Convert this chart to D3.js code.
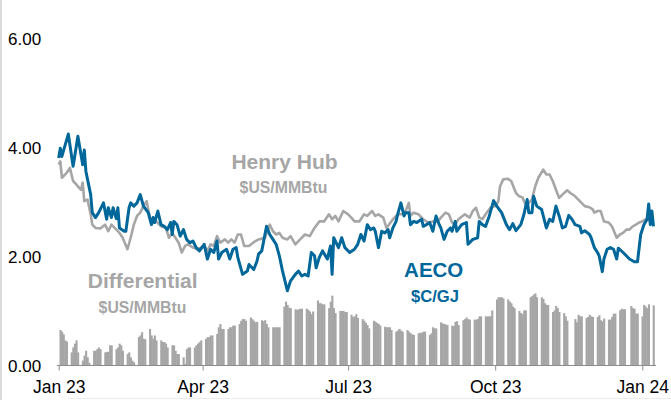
<!DOCTYPE html>
<html><head><meta charset="utf-8">
<script src="https://cdn.jsdelivr.net/npm/d3@7"></script>
<style>html,body{margin:0;padding:0;background:#fff;}svg{display:block;}</style>
</head><body>
<svg id="c" width="671" height="400"></svg>
<script>
const yTicks = [0, 2, 4, 6];
const xTickDates = ["2023-01-01","2023-04-01","2023-07-01","2023-10-01","2024-01-01"];
const xTickLabels = ["Jan 23","Apr 23","Jul 23","Oct 23","Jan 24"];

const aecoDates = ["2023-01-01","2023-01-02","2023-01-03","2023-01-07","2023-01-10","2023-01-11","2023-01-13","2023-01-16","2023-01-17","2023-01-18","2023-01-21","2023-01-22","2023-01-24","2023-01-26","2023-01-29","2023-01-31","2023-02-01","2023-02-03","2023-02-04","2023-02-06","2023-02-07","2023-02-08","2023-02-11","2023-02-12","2023-02-14","2023-02-15","2023-02-17","2023-02-19","2023-02-21","2023-02-23","2023-02-26","2023-02-28","2023-03-01","2023-03-02","2023-03-04","2023-03-06","2023-03-08","2023-03-10","2023-03-12","2023-03-13","2023-03-14","2023-03-16","2023-03-18","2023-03-20","2023-03-22","2023-03-24","2023-03-26","2023-03-28","2023-03-30","2023-04-02","2023-04-04","2023-04-06","2023-04-08","2023-04-10","2023-04-11","2023-04-13","2023-04-16","2023-04-18","2023-04-20","2023-04-22","2023-04-23","2023-04-26","2023-04-29","2023-04-30","2023-05-03","2023-05-05","2023-05-06","2023-05-08","2023-05-11","2023-05-13","2023-05-15","2023-05-17","2023-05-19","2023-05-21","2023-05-24","2023-05-26","2023-05-29","2023-05-31","2023-06-02","2023-06-04","2023-06-06","2023-06-08","2023-06-10","2023-06-11","2023-06-13","2023-06-15","2023-06-18","2023-06-20","2023-06-21","2023-06-22","2023-06-25","2023-06-27","2023-06-29","2023-07-02","2023-07-05","2023-07-07","2023-07-09","2023-07-11","2023-07-13","2023-07-15","2023-07-17","2023-07-18","2023-07-20","2023-07-22","2023-07-24","2023-07-26","2023-07-27","2023-07-29","2023-07-31","2023-08-01","2023-08-03","2023-08-05","2023-08-06","2023-08-08","2023-08-09","2023-08-11","2023-08-13","2023-08-16","2023-08-17","2023-08-19","2023-08-21","2023-08-23","2023-08-25","2023-08-27","2023-08-28","2023-08-30","2023-09-01","2023-09-03","2023-09-04","2023-09-06","2023-09-07","2023-09-10","2023-09-13","2023-09-14","2023-09-17","2023-09-20","2023-09-21","2023-09-23","2023-09-25","2023-09-27","2023-09-30","2023-10-02","2023-10-05","2023-10-08","2023-10-10","2023-10-12","2023-10-14","2023-10-17","2023-10-19","2023-10-21","2023-10-22","2023-10-24","2023-10-25","2023-10-27","2023-10-30","2023-11-02","2023-11-04","2023-11-06","2023-11-08","2023-11-10","2023-11-12","2023-11-14","2023-11-16","2023-11-18","2023-11-20","2023-11-23","2023-11-24","2023-11-26","2023-11-29","2023-11-30","2023-12-02","2023-12-04","2023-12-05","2023-12-07","2023-12-08","2023-12-10","2023-12-12","2023-12-14","2023-12-16","2023-12-17","2023-12-20","2023-12-22","2023-12-24","2023-12-27","2023-12-29","2023-12-31","2024-01-02","2024-01-04","2024-01-05","2024-01-06","2024-01-07","2024-01-08"];
const aecoValues = [3.80,3.98,3.83,4.24,3.65,3.83,4.20,3.68,3.95,3.56,3.13,2.80,2.71,2.80,2.98,2.68,2.89,2.71,2.89,2.69,2.89,2.52,2.46,2.46,2.89,2.98,2.92,2.98,3.13,2.92,2.80,2.58,2.71,2.62,2.83,2.58,2.55,2.49,2.62,2.40,2.64,2.58,2.37,2.49,2.31,2.25,2.28,2.16,2.10,2.22,1.95,2.13,2.07,2.28,1.95,2.07,2.13,1.95,2.13,2.16,1.98,1.67,1.73,1.85,1.76,1.91,2.04,2.10,2.55,2.40,2.31,2.22,2.01,1.73,1.37,1.55,1.67,1.73,1.64,1.67,1.64,2.07,2.01,1.79,1.98,2.10,1.95,2.19,1.67,2.34,2.16,2.34,2.16,2.07,2.13,2.22,2.40,2.28,2.58,2.49,2.52,2.46,2.16,2.46,2.43,2.49,2.34,2.52,2.64,2.77,2.98,2.74,2.80,2.80,2.58,2.64,2.62,2.68,2.55,2.58,2.62,2.46,2.74,2.58,2.52,2.31,2.46,2.52,2.46,2.64,2.46,2.58,2.62,2.22,2.31,2.34,2.64,2.58,2.55,2.71,3.02,2.92,2.80,2.58,2.49,2.60,2.47,2.58,2.77,3.04,2.80,2.80,3.10,2.92,2.86,2.52,2.68,2.64,2.92,2.74,2.52,2.55,2.75,2.68,2.58,2.55,2.43,2.47,2.40,2.34,2.16,2.07,2.01,1.72,1.95,2.13,2.16,2.13,1.95,2.15,2.07,2.01,1.95,1.90,1.90,2.40,2.58,2.68,2.96,2.58,2.83,2.55];

const hhDates = ["2023-01-01","2023-01-02","2023-01-03","2023-01-06","2023-01-08","2023-01-10","2023-01-12","2023-01-13","2023-01-15","2023-01-16","2023-01-17","2023-01-19","2023-01-21","2023-01-22","2023-01-24","2023-01-27","2023-01-30","2023-02-01","2023-02-03","2023-02-05","2023-02-08","2023-02-10","2023-02-13","2023-02-15","2023-02-17","2023-02-19","2023-02-21","2023-02-23","2023-02-25","2023-02-27","2023-03-01","2023-03-03","2023-03-06","2023-03-09","2023-03-11","2023-03-13","2023-03-15","2023-03-17","2023-03-19","2023-03-21","2023-03-23","2023-03-26","2023-03-29","2023-04-02","2023-04-04","2023-04-06","2023-04-08","2023-04-10","2023-04-12","2023-04-15","2023-04-17","2023-04-19","2023-04-21","2023-04-23","2023-04-25","2023-04-27","2023-04-30","2023-05-03","2023-05-06","2023-05-10","2023-05-13","2023-05-15","2023-05-17","2023-05-19","2023-05-21","2023-05-24","2023-05-26","2023-05-29","2023-06-01","2023-06-04","2023-06-07","2023-06-10","2023-06-13","2023-06-16","2023-06-19","2023-06-21","2023-06-23","2023-06-25","2023-06-28","2023-07-01","2023-07-03","2023-07-05","2023-07-08","2023-07-11","2023-07-13","2023-07-16","2023-07-18","2023-07-20","2023-07-23","2023-07-25","2023-07-28","2023-07-30","2023-08-01","2023-08-04","2023-08-06","2023-08-08","2023-08-09","2023-08-11","2023-08-14","2023-08-17","2023-08-20","2023-08-23","2023-08-26","2023-08-29","2023-08-31","2023-09-02","2023-09-04","2023-09-06","2023-09-08","2023-09-12","2023-09-15","2023-09-17","2023-09-19","2023-09-21","2023-09-23","2023-09-25","2023-09-28","2023-10-01","2023-10-03","2023-10-04","2023-10-06","2023-10-09","2023-10-11","2023-10-14","2023-10-16","2023-10-18","2023-10-20","2023-10-22","2023-10-24","2023-10-26","2023-10-28","2023-10-31","2023-11-02","2023-11-04","2023-11-06","2023-11-08","2023-11-10","2023-11-12","2023-11-15","2023-11-17","2023-11-20","2023-11-24","2023-11-26","2023-11-29","2023-12-01","2023-12-02","2023-12-04","2023-12-06","2023-12-08","2023-12-11","2023-12-13","2023-12-16","2023-12-18","2023-12-20","2023-12-22","2023-12-24","2023-12-26","2023-12-28","2023-12-30","2024-01-01","2024-01-03","2024-01-05","2024-01-07"];
const hhValues = [3.68,3.74,3.44,3.53,3.62,3.38,3.32,3.28,3.22,3.35,3.01,3.04,2.77,2.58,2.52,2.51,2.58,2.46,2.58,2.52,2.43,2.34,2.13,2.34,2.58,2.74,2.80,2.92,3.01,2.71,2.62,2.64,2.55,2.52,2.34,2.43,2.34,2.25,2.07,2.19,2.22,2.16,2.13,2.19,2.10,2.22,2.19,2.37,2.25,2.31,2.25,2.31,2.25,2.40,2.40,2.19,2.19,2.26,2.31,2.34,2.58,2.46,2.40,2.43,2.34,2.31,2.37,2.22,2.31,2.40,2.37,2.52,2.64,2.64,2.77,2.68,2.74,2.64,2.83,2.77,2.71,2.64,2.64,2.77,2.74,2.83,2.74,2.77,2.71,2.52,2.64,2.71,2.77,2.77,2.83,2.98,2.74,2.80,2.77,2.68,2.62,2.64,2.64,2.74,2.80,2.77,2.62,2.58,2.68,2.77,2.71,2.83,2.89,2.71,2.68,2.77,2.89,2.92,3.01,3.28,3.41,3.42,3.38,3.16,3.10,3.08,2.95,2.98,3.04,3.28,3.44,3.59,3.50,3.50,3.38,3.22,3.07,3.13,3.21,3.16,3.10,2.98,2.92,2.90,2.86,2.80,2.83,2.83,2.64,2.62,2.55,2.34,2.40,2.43,2.49,2.49,2.55,2.58,2.62,2.64,2.68,2.68,2.58];

// Differential bars: one row per trading week (Mon..Fri), first week starting 2023-01-02; null = no trading
const diffFirstMonday = "2023-01-02";
const diffWeeks = [
 [0.65,0.62,0.57,0.46,0.44],[0.24,0.33,0.40,0.46,0.24],[0.09,0.18,0.27,0.15,0.05],[0.27,0.27,0.30,0.33,0.30],
 [0.24,0.25,0.25,0.37,0.37],[0.30,0.33,0.40,0.37,0.27],[0.21,0.24,0.15,0.09,0.06],[0.52,0.55,0.61,0.49,0.48],
 [0.67,0.55,0.49,0.55,0.46],[0.46,0.43,0.43,0.40,0.33],[0.37,0.37,0.27,0.21,0.21],[0.15,0.03,0.30,0.33,0.33],
 [0.33,0.37,0.40,0.43,0.46],[0.49,0.52,0.52,0.55,0.55],[0.58,0.70,0.76,0.67,0.67],[0.67,0.70,0.70,0.73,0.73],
 [0.76,0.82,0.85,0.85,0.82],[0.88,0.85,0.82,0.79,0.80],[0.83,0.81,0.83,0.76,0.70],[0.70,0.70,0.70,0.70,0.70],
 [1.08,1.17,1.11,1.06,1.05],[1.03,1.02,1.03,1.04,1.04],[1.04,1.02,0.99,0.94,0.99],[1.19,1.14,1.14,1.12,1.12],
 [1.05,1.17,1.28,1.05,0.96],[1.00,1.00,1.00,0.98,0.98],[0.93,0.89,0.90,0.94,0.87],[0.85,0.82,0.78,0.74,0.68],
 [0.82,0.80,0.78,0.76,0.73],[0.71,0.70,0.70,0.70,0.65],[0.62,0.64,0.67,0.64,0.62],[0.65,0.62,0.59,0.57,0.56],
 [0.59,0.60,0.60,0.62,0.62],[0.56,0.59,0.70,0.68,0.68],[0.79,0.77,0.76,0.75,0.74],[0.73,0.72,0.80,0.81,0.74],
 [0.83,0.85,0.88,0.85,0.84],[0.84,0.84,0.85,0.90,0.90],[0.90,0.90,0.90,0.90,1.01],[1.21,1.25,1.25,1.25,1.23],
 [1.21,1.17,1.14,1.08,1.05],[1.00,0.96,0.94,1.01,1.01],[1.25,1.27,1.30,1.32,1.25],[1.25,1.22,1.14,1.11,1.11],
 [0.98,1.01,1.09,1.05,0.98],[0.96,0.90,0.82,null,null],[0.85,0.79,0.93,0.90,0.90],[0.87,0.89,0.93,0.90,0.89],
 [0.89,0.92,0.83,0.81,0.86],[0.84,0.84,0.89,0.95,0.95],[1.01,1.04,1.03,1.03,null],[1.09,1.05,1.04,0.95,0.95],
 [0.90,1.11,1.08,1.05,1.12],[1.10]
];

const GRAY = "#a6a6a6", BLUE = "#00679a";
const parse = d3.utcParse("%Y-%m-%d");
const svg = d3.select("#c");

const x = d3.scaleUtc().domain([parse("2023-01-01"), parse("2024-01-01")]).range([58.7, 642.3]);
const y = d3.scaleLinear().domain([0, 6]).range([365.5, 38]);

// frame details
svg.append("rect").attr("x",0).attr("y",0).attr("width",2).attr("height",400).attr("fill","#dcdcdc");
svg.append("line").attr("x1",68).attr("x2",671).attr("y1",398.5).attr("y2",398.5).attr("stroke","#ececec");

// bars
const bars = [];
const m0 = parse(diffFirstMonday);
diffWeeks.forEach((wk, i) => wk.forEach((v, j) => {
  if (v != null) bars.push({ date: d3.utcDay.offset(m0, i * 7 + j), v });
}));
const dayW = x(parse("2023-01-02")) - x(parse("2023-01-01"));
svg.append("g").selectAll("rect").data(bars).join("rect")
  .attr("x", d => x(d.date) - dayW / 2)
  .attr("width", dayW + 0.5)
  .attr("y", d => y(d.v))
  .attr("height", d => y(0) - y(d.v))
  .attr("fill", GRAY);

// x axis
const xAxis = d3.axisBottom(x).tickValues(xTickDates.map(parse)).tickFormat((d, i) => xTickLabels[i]).tickSize(5).tickSizeOuter(0);
const gx = svg.append("g").attr("transform", `translate(0,${y(0)})`).call(xAxis);
gx.select(".domain").remove();
gx.append("line").attr("x1",57).attr("x2",656).attr("stroke","#8c8c8c");
gx.selectAll(".tick line").attr("stroke","#8c8c8c");
gx.selectAll(".tick text").attr("font-family","'Liberation Sans', Arial, sans-serif").attr("font-size",17.5)
  .attr("fill","#000").attr("dy",null).attr("y",27.2);

// y axis labels
const gy = svg.append("g").attr("transform","translate(8,0)").call(d3.axisLeft(y).tickValues(yTicks).tickFormat(d3.format(".2f")).tickSize(0));
gy.select(".domain").remove();
gy.selectAll(".tick text").attr("text-anchor","start").attr("x",0).attr("dy","0.36em")
  .attr("font-family","'Liberation Sans', Arial, sans-serif").attr("font-size",17).attr("fill","#000");

// lines
const hh = hhDates.map((d, i) => ({ date: parse(d), v: hhValues[i] }));
const aeco = aecoDates.map((d, i) => ({ date: parse(d), v: aecoValues[i] }));
const line = d3.line().x(d => x(d.date)).y(d => y(d.v)).curve(d3.curveLinear);
svg.append("path").datum(hh).attr("d", line).attr("fill","none").attr("stroke",GRAY).attr("stroke-width",2.6).attr("stroke-linejoin","round");
svg.append("path").datum(aeco).attr("d", line).attr("fill","none").attr("stroke",BLUE).attr("stroke-width",3).attr("stroke-linejoin","round");

// annotations
const ann = [
  { t: "Henry Hub", x: 284.5, y: 169.3, s: 21, c: GRAY },
  { t: "$US/MMBtu", x: 283.5, y: 193.3, s: 15.8, c: GRAY },
  { t: "Differential", x: 142.7, y: 288.3, s: 21, c: GRAY },
  { t: "$US/MMBtu", x: 142.5, y: 313.3, s: 15.8, c: GRAY },
  { t: "AECO", x: 433.7, y: 276.7, s: 20.5, c: BLUE },
  { t: "$C/GJ", x: 435, y: 301.7, s: 16.6, c: BLUE }
];
svg.append("g").selectAll("text").data(ann).join("text")
  .attr("x", d => d.x).attr("y", d => d.y).attr("text-anchor","middle")
  .attr("font-family","'Liberation Sans', Arial, sans-serif").attr("font-weight","bold")
  .attr("font-size", d => d.s).attr("fill", d => d.c).text(d => d.t);
</script>
</body></html>
